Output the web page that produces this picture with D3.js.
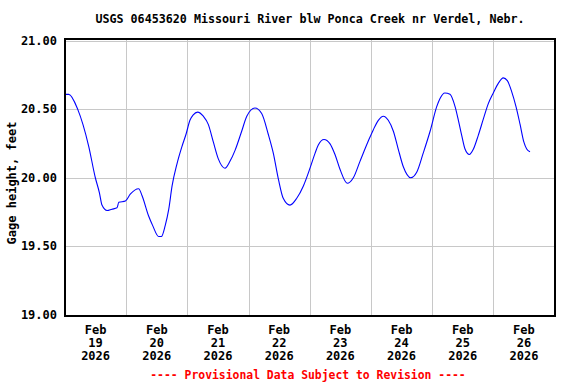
<!DOCTYPE html>
<html>
<head>
<meta charset="utf-8">
<script src="https://d3js.org/d3.v7.min.js"></script>
<style>
body { margin: 0; background: #fff; }
text { font-family: "DejaVu Sans Mono", "Liberation Mono", monospace; font-weight: bold; }
</style>
</head>
<body>
<div id="chart"></div>
<script>
// hours since 2026-02-19 00:00
var hours = [0, 1.5, 5, 9.3, 11.9, 13.5, 14.5, 16.5, 18.4, 20.4, 21.1, 23.7, 25.6, 28.9, 30.2,
  32.8, 34.4, 36.75, 37.8, 39.3, 40.7, 42, 43.9, 45.9, 47.5, 49, 50.3, 52, 54.25, 56.2,
  58.2, 60.1, 62.75, 64.7, 66.7, 69.3, 71.3, 74.5, 77.15, 79.7, 81.7, 83.7, 85.6, 88.25,
  90.9, 93.5, 96.1, 98.1, 99.35, 101.6, 103.9, 105.9, 107.9, 110.7, 113.1, 115.7, 119,
  120.9, 122.9, 124.85, 126.8, 128.8, 130.7, 132.7, 135.6, 137.95, 140.5, 143.2, 145.8,
  147.1, 149, 151, 153, 154.3, 155.6, 156.9, 158.6, 160.2, 162.1, 164.1, 166, 168,
  169.95, 171.9, 173.5, 175.2, 176.9, 178.5, 180, 181.1, 182.4];
var stage = [20.61, 20.61, 20.50, 20.23, 20.00, 19.89, 19.80, 19.76, 19.77, 19.78, 19.82, 19.83, 19.88, 19.92, 19.87,
  19.72, 19.65, 19.57, 19.57, 19.65, 19.77, 19.94, 20.10, 20.23, 20.32, 20.42, 20.46, 20.48, 20.45, 20.39,
  20.26, 20.14, 20.07, 20.12, 20.20, 20.34, 20.45, 20.51, 20.47, 20.32, 20.18, 19.99, 19.85, 19.80,
  19.85, 19.94, 20.07, 20.18, 20.24, 20.28, 20.25, 20.17, 20.06, 19.96, 20.00, 20.12, 20.27,
  20.35, 20.42, 20.45, 20.42, 20.34, 20.21, 20.08, 20.00, 20.04, 20.18, 20.34, 20.52,
  20.58, 20.62, 20.61, 20.52, 20.42, 20.31, 20.21, 20.17, 20.21, 20.31, 20.43, 20.54, 20.62,
  20.69, 20.73, 20.71, 20.63, 20.52, 20.39, 20.26, 20.21, 20.19];
var yTicks = [19.0, 19.5, 20.0, 20.5, 21.0];
var dayLabels = ["19", "20", "21", "22", "23", "24", "25", "26"];

var start = new Date(2026, 1, 19, 0, 0);
var end = new Date(2026, 1, 27, 0, 0);
var data = hours.map(function(h, i) {
  return { t: new Date(start.getTime() + h * 3600000), v: stage[i] };
});

var W = 576, H = 384;
var pl = 65, pr = 555, pt = 39, pb = 316;

var svg = d3.select("#chart").append("svg")
  .attr("width", W)
  .attr("height", H);

var x = d3.scaleTime().domain([start, end]).range([pl, pr - 0.5]);
var y = d3.scaleLinear().domain([19, 21]).range([314.5, 41]);

// grid
var grid = svg.append("g").attr("stroke", "#c8c8c8").attr("stroke-width", 1).attr("shape-rendering", "crispEdges");
grid.selectAll("line.h")
  .data(yTicks)
  .enter().append("line")
  .attr("x1", pl).attr("x2", pr)
  .attr("y1", function(d) { return Math.round(y(d)) + 0.5; })
  .attr("y2", function(d) { return Math.round(y(d)) + 0.5; });
grid.selectAll("line.v")
  .data(d3.timeDay.range(d3.timeDay.offset(start, 1), end))
  .enter().append("line")
  .attr("y1", pt).attr("y2", pb)
  .attr("x1", function(d) { return Math.round(x(d)) + 0.5; })
  .attr("x2", function(d) { return Math.round(x(d)) + 0.5; });

// the series
var line = d3.line()
  .x(function(d) { return x(d.t); })
  .y(function(d) { return y(d.v); })
  .curve(d3.curveMonotoneX);

svg.append("path")
  .datum(data)
  .attr("fill", "none")
  .attr("stroke", "#0000ff")
  .attr("stroke-width", 1.1)
  .attr("d", line);

// frame
svg.append("rect")
  .attr("x", pl).attr("y", pt)
  .attr("width", pr - pl).attr("height", pb - pt)
  .attr("fill", "none")
  .attr("stroke", "#000")
  .attr("stroke-width", 2)
  .attr("shape-rendering", "crispEdges");

// y labels
svg.append("g").selectAll("text")
  .data(yTicks)
  .enter().append("text")
  .attr("x", 57)
  .attr("y", function(d) { return y(d) + 4; })
  .attr("text-anchor", "end")
  .attr("font-size", 12)
  .text(function(d) { return d3.format(".2f")(d); });

// x labels, centred on noon of each day
function noon(i) { return x(new Date(2026, 1, 19 + i, 12)); }
var xl = svg.append("g").selectAll("text")
  .data(dayLabels)
  .enter().append("text")
  .attr("text-anchor", "middle")
  .attr("font-size", 12);
xl.append("tspan").attr("y", 334).attr("x", function(d, i) { return noon(i); }).text("Feb");
xl.append("tspan").attr("y", 347).attr("x", function(d, i) { return noon(i); }).text(function(d) { return d; });
xl.append("tspan").attr("y", 360).attr("x", function(d, i) { return noon(i); }).text("2026");

svg.append("text")
  .attr("x", 310).attr("y", 23)
  .attr("text-anchor", "middle")
  .attr("font-size", 11.7)
  .text("USGS 06453620 Missouri River blw Ponca Creek nr Verdel, Nebr.");

svg.append("text")
  .attr("transform", "translate(16,183) rotate(-90)")
  .attr("text-anchor", "middle")
  .attr("font-size", 12)
  .text("Gage height, feet");

svg.append("text")
  .attr("x", 308).attr("y", 379)
  .attr("text-anchor", "middle")
  .attr("font-size", 11.4)
  .attr("fill", "#ff0000")
  .text("---- Provisional Data Subject to Revision ----");
</script>
</body>
</html>
